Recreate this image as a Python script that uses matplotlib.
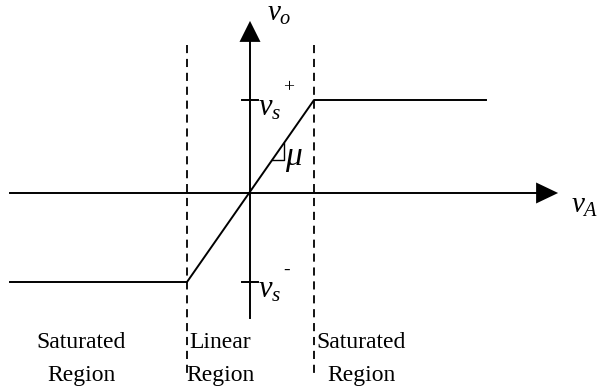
import matplotlib
matplotlib.use("Agg")
import matplotlib.pyplot as plt

plt.rcParams['font.family'] = ['Liberation Serif', 'DejaVu Serif']
plt.rcParams['mathtext.fontset'] = 'custom'
plt.rcParams['mathtext.rm'] = 'Liberation Serif'
plt.rcParams['mathtext.it'] = 'Liberation Serif:italic'

# transfer curve (offsets from the origin, screen-like units)
curve_x = [-240, -63, 64, 236]
curve_y = [-89, -89, 93, 93]
knees = [-63, 64]            # region boundaries on v_A
sat_levels = [93, -89]       # v_s+ and v_s-
sat_signs = ['+', '-']
region_top = ['Saturated', 'Linear', 'Saturated']
region_bot = ['Region', 'Region', 'Region']
region_x = [-169, -30, 111]

fig = plt.figure(figsize=(5.98, 3.90), dpi=100)
ax = fig.add_axes([0, 0, 1, 1])
ax.set_xlim(-250, 348)
ax.set_ylim(-197, 193)
ax.axis('off')

lw = 1.4
# axes with arrows
ax.plot([-240, 288], [0, 0], color='black', lw=lw)
ax.arrow(286, 0, 0.1, 0, head_width=21, head_length=22, fc='black', ec='black', lw=0)
ax.plot([0, 0], [-125, 153], color='black', lw=lw)
ax.arrow(0, 151, 0, 0.1, head_width=21, head_length=21, fc='black', ec='black', lw=0)

# curve
ax.plot(curve_x, curve_y, color='black', lw=lw)

# dashed region boundaries
for k in knees:
    ax.plot([k, k], [148, -182], color='black', lw=1.3, dashes=(4.5, 3.2))

# ticks on the v_o axis and saturation labels
for lvl, sg in zip(sat_levels, sat_signs):
    ax.plot([-8, 8], [lvl, lvl], color='black', lw=lw)
    ax.text(8, lvl - 15, r'$v_s$', fontsize=22, va='baseline', ha='left')
    ax.text(33, lvl + 12, sg, fontsize=14, va='center', ha='left')

# slope triangle
slope = (curve_y[2] - curve_y[1]) / (curve_x[2] - curve_x[1])
ty = 33
tx = curve_x[1] + (ty - curve_y[1]) / slope
ty2 = 50
tx2 = curve_x[1] + (ty2 - curve_y[1]) / slope
ax.plot([tx, tx2, tx2], [ty, ty, ty2], color='black', lw=1.0)
ax.text(tx2 + 1, ty - 5, r'$\mu$', fontsize=24, va='baseline', ha='left')

# axis labels
ax.text(17, 172, r'$v_o$', fontsize=21, va='baseline', ha='left')
ax.text(321, -20, r'$v_A$', fontsize=21, va='baseline', ha='left')

# region names
for rx, t, b in zip(region_x, region_top, region_bot):
    ax.text(rx, -149, t, fontsize=17, ha='center', va='center')
    ax.text(rx, -182, b, fontsize=17, ha='center', va='center')

fig.savefig('out.png', dpi=100)
